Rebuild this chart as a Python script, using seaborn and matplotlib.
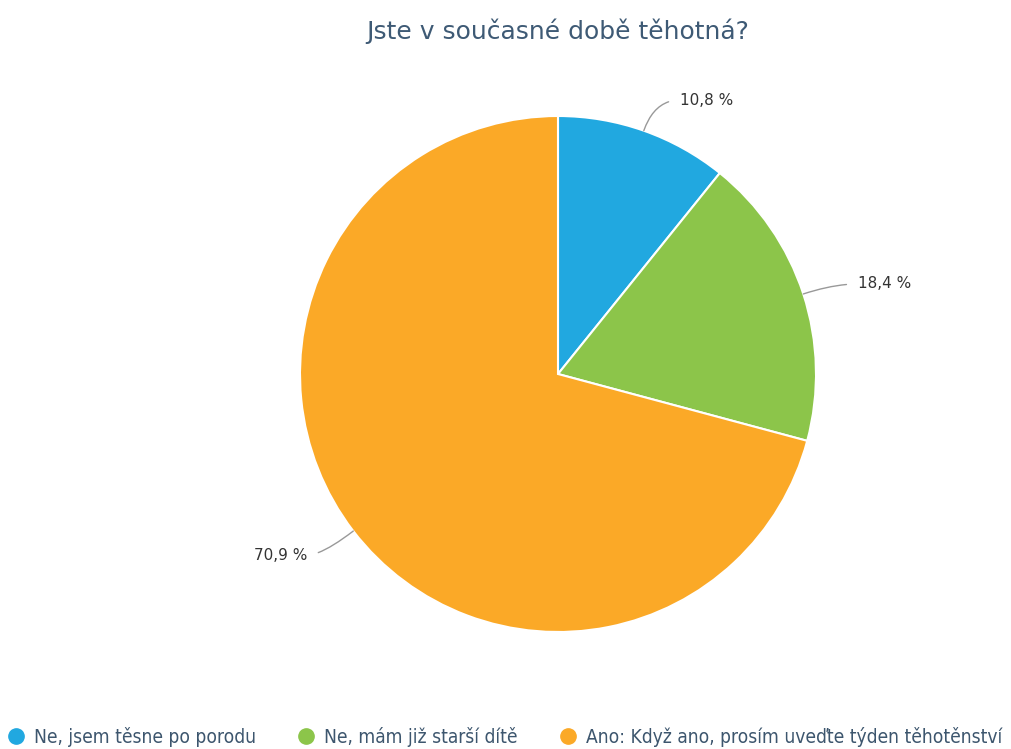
import numpy as np
import matplotlib
matplotlib.use("Agg")
import matplotlib.pyplot as plt
from matplotlib.lines import Line2D
import seaborn as sns

# Survey answers and their shares (%)
categories = [
    "Ne, jsem těsne po porodu",
    "Ne, mám již starší dítě",
    "Ano: Když ano, prosím uveďte týden těhotěnství",
]
shares = [10.8, 18.4, 70.9]
title = "Jste v současné době těhotná?"

sns.set_theme(style="white")
plt.rcParams["font.family"] = ["DejaVu Sans"]
palette = sns.color_palette(["#21a8e0", "#8cc54a", "#fba927"])

W, H = 1011, 749
fig = plt.figure(figsize=(W / 100, H / 100), dpi=100)

# Pie centre / radius in pixels
cx, cy, rad = 558, 374, 258
half = 300
ax = fig.add_axes([(cx - half) / W, (H - cy - half) / H, 2 * half / W, 2 * half / H])

wedges, _ = ax.pie(
    shares,
    colors=palette,
    startangle=90,
    counterclock=False,
    radius=1.0,
    wedgeprops=dict(edgecolor="white", linewidth=1.5),
)
lim = half / rad
ax.set_xlim(-lim, lim)
ax.set_ylim(-lim, lim)
ax.set_aspect("equal")
ax.axis("off")

# Label anchor points (axes data units, pie radius = 1)
label_pos = [(0.473, 1.062), (1.163, 0.349), (-0.973, -0.702)]
for w, val, (tx, ty) in zip(wedges, shares, label_pos):
    mid = np.deg2rad((w.theta1 + w.theta2) / 2)
    x0, y0 = np.cos(mid), np.sin(mid)
    right = tx >= 0
    txt = f"{val:.1f}".replace(".", ",") + " %"
    ax.annotate(
        txt,
        xy=(x0, y0),
        xytext=(tx, ty),
        ha="left" if right else "right",
        va="center",
        fontsize=11,
        color="#333333",
        annotation_clip=False,
        arrowprops=dict(
            arrowstyle="-",
            color="#999999",
            lw=1.0,
            relpos=(0, 0.5) if right else (1, 0.5),
            shrinkA=6,
            shrinkB=0,
            connectionstyle=f"angle3,angleA=0,angleB={np.rad2deg(mid):.1f}",
        ),
    )

fig.text(cx / W, 1 - 31 / H, title, ha="center", va="center",
         fontsize=18, color="#3e5a75")

handles = [
    Line2D([0], [0], marker="o", linestyle="", markersize=11,
           markerfacecolor=c, markeredgecolor=c)
    for c in palette
]
leg = fig.legend(
    handles, categories,
    loc="center left", bbox_to_anchor=(0.0, 1 - 737 / H),
    ncol=3, frameon=False, handletextpad=0.3, columnspacing=2.0,
    handlelength=1.26, borderaxespad=0.0, borderpad=0.2,
    prop=dict(family="DejaVu Sans", stretch="condensed", size=13.8),
)
for t in leg.get_texts():
    t.set_color("#3d566e")

fig.savefig("out.png", dpi=100, facecolor="white")
